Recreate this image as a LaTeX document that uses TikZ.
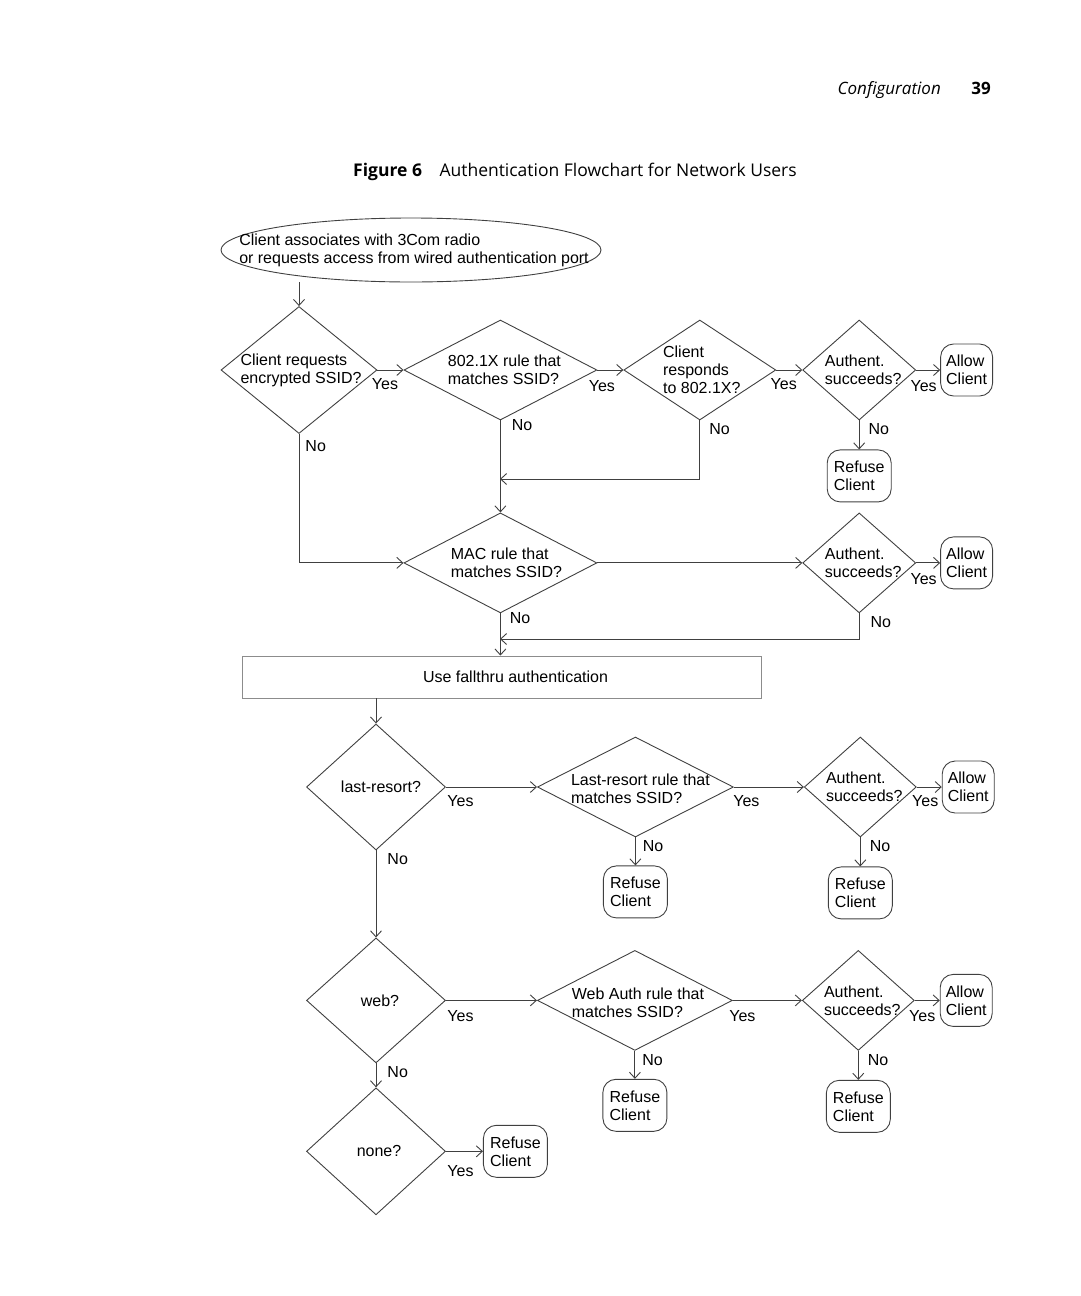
\documentclass[tikz,border=0pt]{standalone}
\usepackage{fontspec}
\setmainfont{Liberation Sans}
\newfontfamily\headfont{Open Sans}
\usetikzlibrary{positioning,shapes.geometric,arrows.meta}

\tikzset{
  base/.style={draw=black!75, line width=0.9pt, inner sep=0pt},
  dec/.style={base, diamond},
  term/.style={base, rectangle, rounded corners=13pt, minimum width=52pt, minimum height=52pt, align=left, font=\fontsize{16}{18}\selectfont},
  txt/.style={align=left, font=\fontsize{16}{18}\selectfont, inner sep=0pt},
  ylab/.style={txt, pos=0, anchor=north west, xshift=-6pt, yshift=-8pt},
  nlab/.style={txt, pos=0, anchor=north west, xshift=9pt, yshift=-3pt},
  flow/.style={draw=black!75, line width=0.9pt, -{Straight Barb[length=6pt,width=11pt]}},
}

\begin{document}
\begin{tikzpicture}[x=1pt,y=-1pt]
  \useasboundingbox (0,0) rectangle (1080,1296);

  % page header and caption
  \node[anchor=base east, font=\headfont\itshape\fontsize{17}{20}\selectfont, inner sep=0pt] (hdr) at (941,94) {Configuration};
  \node[anchor=base east, font=\headfont\bfseries\fontsize{17}{20}\selectfont, inner sep=0pt] (pg) at (991,94) {39};
  \node[anchor=base west, font=\headfont\fontsize{17.5}{20}\selectfont, inner sep=0pt] (title) at (353,176) {\textbf{Figure 6}\quad Authentication Flowchart for Network Users};

  % start
  \node[base, ellipse, minimum width=380pt, minimum height=64pt,
        label={[txt,xshift=3pt]center:{Client associates with 3Com radio\\or requests access from wired authentication port}}] (start) at (411,250) {};

  % 802.1X row
  \node[dec, minimum width=156pt, minimum height=127pt, label={[txt,xshift=2pt]center:{Client requests\\encrypted SSID?}}] (encr) at (299,370) {};
  \node[dec, minimum width=193pt, minimum height=100pt, right=26pt of encr, label={[txt,xshift=4pt]center:{802.1X rule that\\matches SSID?}}] (dotx) {};
  \node[dec, minimum width=152pt, minimum height=100pt, right=26pt of dotx, label={[txt,xshift=2pt]center:{Client\\responds\\to 802.1X?}}] (resp) {};
  \node[dec, minimum width=113pt, minimum height=100pt, right=26pt of resp, label={[txt,xshift=4pt]center:{Authent.\\succeeds?}}] (auA) {};
  \node[term, right=24pt of auA] (okA) {Allow\\Client};
  \node[term, minimum width=64pt, below=29pt of auA] (noA) {Refuse\\Client};

  % MAC row
  \node[dec, minimum width=193pt, minimum height=100pt, below=92pt of dotx, label={[txt,xshift=6pt]center:{MAC rule that\\matches SSID?}}] (mac) {};
  \node[dec, minimum width=113pt, minimum height=100pt, below=92pt of auA, label={[txt,xshift=4pt]center:{Authent.\\succeeds?}}] (auB) {};
  \node[term, right=24pt of auB] (okB) {Allow\\Client};
  \coordinate (j1) at (500,479);
  \coordinate (j2) at (500,639);

  % fallthru
  \node[base, draw=black!45, minimum width=519pt, minimum height=42pt,
        label={[txt,xshift=14pt]center:{Use fallthru authentication}}] (fall) at (501.5,677) {};

  % last-resort row
  \node[dec, minimum width=139pt, minimum height=126pt, label={[txt,xshift=5pt]center:{last-resort?}}] (lres) at (376,787) {};
  \node[dec, minimum width=196pt, minimum height=100pt, right=91pt of lres, label={[txt,xshift=5pt,yshift=-2pt]center:{Last-resort rule that\\matches SSID?}}] (lrule) {};
  \node[dec, minimum width=112pt, minimum height=100pt, right=70pt of lrule, label={[txt,xshift=4pt]center:{Authent.\\succeeds?}}] (auC) {};
  \node[term, right=25pt of auC] (okC) {Allow\\Client};
  \node[term, minimum width=64pt, below=28pt of lrule] (noC1) {Refuse\\Client};
  \node[term, minimum width=64pt, below=29pt of auC] (noC2) {Refuse\\Client};

  % web row
  \node[dec, minimum width=139pt, minimum height=125pt, below=87pt of lres, label={[txt,xshift=4pt]center:{web?}}] (web) {};
  \node[dec, minimum width=195pt, minimum height=100pt, right=91pt of web, label={[txt,xshift=3pt,yshift=-2pt]center:{Web Auth rule that\\matches SSID?}}] (wrule) {};
  \node[dec, minimum width=112pt, minimum height=100pt, right=69pt of wrule, label={[txt,xshift=4pt]center:{Authent.\\succeeds?}}] (auD) {};
  \node[term, right=25pt of auD] (okD) {Allow\\Client};
  \node[term, minimum width=64pt, below=28pt of wrule] (noD1) {Refuse\\Client};
  \node[term, minimum width=64pt, below=29pt of auD] (noD2) {Refuse\\Client};

  % none
  \node[dec, minimum width=139pt, minimum height=127pt, below=24pt of web, label={[txt,xshift=3pt]center:{none?}}] (none) {};
  \node[term, minimum width=64pt, right=37pt of none] (noE) {Refuse\\Client};

  % connectors
  \draw[flow] (start.south -| encr.north) -- (encr.north);
  \draw[flow] (encr.east) -- node[ylab]{Yes} (dotx.west);
  \draw[flow] (dotx.east) -- node[ylab,xshift=-3pt,yshift=-2pt]{Yes} (resp.west);
  \draw[flow] (resp.east) -- node[ylab]{Yes} (auA.west);
  \draw[flow] (auA.east) -- node[ylab,yshift=-2pt]{Yes} (okA.west);
  \draw[flow] (auA.south) -- node[nlab]{No} (noA.north);
  \draw[flow] (encr.south) |- node[nlab,xshift=-3pt,yshift=-3pt]{No} (mac.west);
  \draw[flow] (dotx.south) -- node[nlab,xshift=2pt,yshift=4pt]{No} (mac.north);
  \draw[flow] (resp.south) |- node[nlab]{No} (j1);
  \draw[flow] (mac.east) -- (auB.west);
  \draw[flow] (auB.east) -- node[ylab,yshift=-2pt]{Yes} (okB.west);
  \draw[flow] (auB.south) |- node[nlab,xshift=2pt]{No} (j2);
  \draw[flow] (mac.south) -- node[nlab,yshift=4pt]{No} (mac.south |- fall.north);
  \draw[flow] (lres.north |- fall.south) -- (lres.north);
  \draw[flow] (lres.east) -- node[ylab,xshift=7pt]{Yes} (lrule.west);
  \draw[flow] (lrule.east) -- node[ylab,xshift=5pt]{Yes} (auC.west);
  \draw[flow] (auC.east) -- node[ylab,xshift=1pt]{Yes} (okC.west);
  \draw[flow] (lrule.south) -- node[nlab,xshift=-2pt]{No} (noC1.north);
  \draw[flow] (auC.south) -- node[nlab]{No} (noC2.north);
  \draw[flow] (lres.south) -- node[nlab,xshift=2pt]{No} (web.north);
  \draw[flow] (web.east) -- node[ylab,xshift=7pt,yshift=-2pt]{Yes} (wrule.west);
  \draw[flow] (wrule.east) -- node[ylab,xshift=2pt,yshift=-2pt]{Yes} (auD.west);
  \draw[flow] (auD.east) -- node[ylab,yshift=-2pt]{Yes} (okD.west);
  \draw[flow] (wrule.south) -- node[nlab,xshift=-2pt]{No} (noD1.north);
  \draw[flow] (auD.south) -- node[nlab]{No} (noD2.north);
  \draw[flow] (web.south) -- node[nlab,xshift=2pt]{No} (none.north);
  \draw[flow] (none.east) -- node[ylab,xshift=7pt,yshift=-6pt]{Yes} (noE.west);
\end{tikzpicture}
\end{document}
